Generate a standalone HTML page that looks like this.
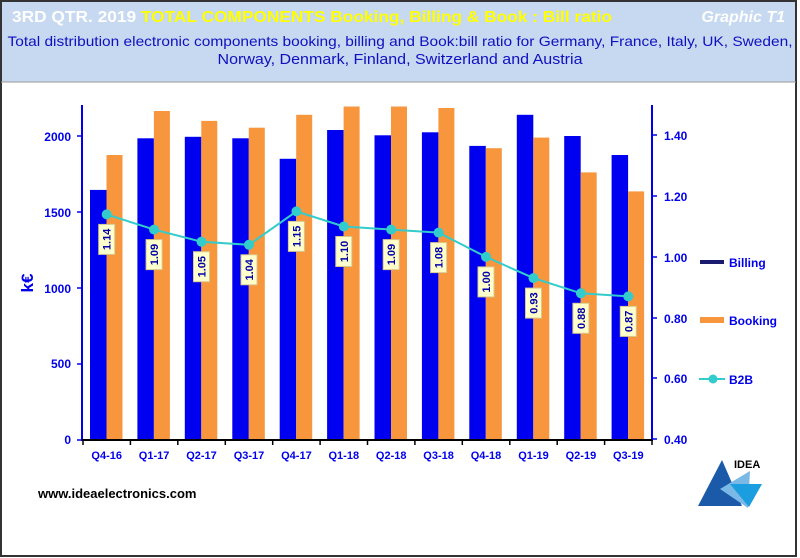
<!DOCTYPE html>
<html><head><meta charset="utf-8"><style>
html,body{margin:0;padding:0;background:#fff}
svg{display:block}
text{font-family:"Liberation Sans",Arial,sans-serif}
</style></head><body>
<svg width="800" height="558" viewBox="0 0 800 558" xmlns="http://www.w3.org/2000/svg">
<rect x="0" y="0" width="800" height="558" fill="#fff"/>
<rect x="1" y="1" width="796" height="81" fill="#c6d9f0"/>
<rect x="1" y="1" width="795" height="555" fill="none" stroke="#333" stroke-width="2"/>
<line x1="1" y1="82" x2="796" y2="82" stroke="#999" stroke-width="1"/>
<text x="12" y="22" font-size="16" font-weight="bold" fill="#fff" textLength="600" lengthAdjust="spacingAndGlyphs">3RD QTR. 2019 <tspan fill="#ffff00">TOTAL COMPONENTS  Booking,  Billing  &amp; Book : Bill ratio</tspan></text>
<text x="785" y="22" font-size="16" font-weight="bold" font-style="italic" fill="#fff" text-anchor="end">Graphic T1</text>
<text x="400" y="46" font-size="14" fill="#1010c0" text-anchor="middle" textLength="785" lengthAdjust="spacingAndGlyphs">Total distribution electronic components booking, billing and Book:bill ratio for Germany,  France, Italy,  UK, Sweden,</text>
<text x="400" y="64" font-size="15" fill="#1010c0" text-anchor="middle" textLength="365" lengthAdjust="spacingAndGlyphs">Norway,  Denmark, Finland, Switzerland  and  Austria</text>

<g fill="#0000f0">
<rect x="90" y="189.9" width="16.5" height="250.1"/>
<rect x="137.4" y="138.3" width="16.5" height="301.7"/>
<rect x="184.8" y="136.8" width="16.5" height="303.2"/>
<rect x="232.3" y="138.3" width="16.5" height="301.7"/>
<rect x="279.7" y="158.8" width="16.5" height="281.2"/>
<rect x="327.1" y="130" width="16.5" height="310"/>
<rect x="374.5" y="135.3" width="16.5" height="304.7"/>
<rect x="421.9" y="132.3" width="16.5" height="307.7"/>
<rect x="469.3" y="145.9" width="16.5" height="294.1"/>
<rect x="516.8" y="114.8" width="16.5" height="325.2"/>
<rect x="564.2" y="136" width="16.5" height="304"/>
<rect x="611.6" y="155" width="16.5" height="285"/>
</g>
<g fill="#f7963c">
<rect x="106.5" y="155" width="16" height="285"/>
<rect x="153.9" y="111" width="16" height="329"/>
<rect x="201.3" y="120.9" width="16" height="319.1"/>
<rect x="248.8" y="127.7" width="16" height="312.3"/>
<rect x="296.2" y="114.8" width="16" height="325.2"/>
<rect x="343.6" y="106.5" width="16" height="333.5"/>
<rect x="391" y="106.5" width="16" height="333.5"/>
<rect x="438.4" y="108" width="16" height="332"/>
<rect x="485.8" y="148.2" width="16" height="291.8"/>
<rect x="533.3" y="137.6" width="16" height="302.4"/>
<rect x="580.7" y="172.4" width="16" height="267.6"/>
<rect x="628.1" y="191.4" width="16" height="248.6"/>
</g>

<!-- axes -->
<line x1="82" y1="105" x2="82" y2="440" stroke="#0000ee" stroke-width="2"/>
<line x1="652" y1="105" x2="652" y2="440" stroke="#0000ee" stroke-width="2"/>
<line x1="81" y1="440" x2="653" y2="440" stroke="#000" stroke-width="2"/>
<g stroke="#000" stroke-width="1.5">
<line x1="83" y1="440" x2="83" y2="445"/><line x1="130.4" y1="440" x2="130.4" y2="445"/><line x1="177.8" y1="440" x2="177.8" y2="445"/><line x1="225.3" y1="440" x2="225.3" y2="445"/><line x1="272.7" y1="440" x2="272.7" y2="445"/><line x1="320.1" y1="440" x2="320.1" y2="445"/><line x1="367.5" y1="440" x2="367.5" y2="445"/><line x1="414.9" y1="440" x2="414.9" y2="445"/><line x1="462.3" y1="440" x2="462.3" y2="445"/><line x1="509.8" y1="440" x2="509.8" y2="445"/><line x1="557.2" y1="440" x2="557.2" y2="445"/><line x1="604.6" y1="440" x2="604.6" y2="445"/><line x1="652" y1="440" x2="652" y2="445"/>
</g>
<g font-size="11" font-weight="bold" fill="#0000ee" text-anchor="middle">
<text x="106.7" y="459">Q4-16</text><text x="154.1" y="459">Q1-17</text><text x="201.5" y="459">Q2-17</text><text x="249" y="459">Q3-17</text><text x="296.4" y="459">Q4-17</text><text x="343.8" y="459">Q1-18</text><text x="391.2" y="459">Q2-18</text><text x="438.6" y="459">Q3-18</text><text x="486" y="459">Q4-18</text><text x="533.5" y="459">Q1-19</text><text x="580.9" y="459">Q2-19</text><text x="628.3" y="459">Q3-19</text>
</g>
<g font-size="12" font-weight="bold" fill="#0000ee" text-anchor="end">
<text x="71" y="444">0</text><text x="71" y="368">500</text><text x="71" y="293">1000</text><text x="71" y="217">1500</text><text x="71" y="141">2000</text>
</g>
<g stroke="#0000ee" stroke-width="1.5">
<line x1="77" y1="440" x2="82" y2="440"/><line x1="77" y1="364" x2="82" y2="364"/><line x1="77" y1="288" x2="82" y2="288"/><line x1="77" y1="212" x2="82" y2="212"/><line x1="77" y1="136" x2="82" y2="136"/>
<line x1="652" y1="135" x2="657" y2="135"/><line x1="652" y1="196" x2="657" y2="196"/><line x1="652" y1="257" x2="657" y2="257"/><line x1="652" y1="318" x2="657" y2="318"/><line x1="652" y1="378" x2="657" y2="378"/><line x1="652" y1="439" x2="657" y2="439"/>
</g>
<g font-size="12" font-weight="bold" fill="#0000ee">
<text x="664" y="140">1.40</text><text x="664" y="201">1.20</text><text x="664" y="262">1.00</text><text x="664" y="323">0.80</text><text x="664" y="383">0.60</text><text x="664" y="444">0.40</text>
</g>
<text transform="translate(33,283) rotate(-90)" font-size="17" font-weight="bold" fill="#0000ee" text-anchor="middle">k€</text>

<!-- B2B line -->
<polyline points="106.7,214.4 154.1,229.6 201.5,241.7 249,244.8 296.4,211.4 343.8,226.5 391.2,229.6 438.6,232.6 486,256.9 533.5,278.1 580.9,293.3 628.3,296.4" fill="none" stroke="#33cccc" stroke-width="2"/>
<g fill="#33cccc">
<circle cx="106.7" cy="214.4" r="5"/><circle cx="154.1" cy="229.6" r="5"/><circle cx="201.5" cy="241.7" r="5"/><circle cx="249" cy="244.8" r="5"/><circle cx="296.4" cy="211.4" r="5"/><circle cx="343.8" cy="226.5" r="5"/><circle cx="391.2" cy="229.6" r="5"/><circle cx="438.6" cy="232.6" r="5"/><circle cx="486" cy="256.9" r="5"/><circle cx="533.5" cy="278.1" r="5"/><circle cx="580.9" cy="293.3" r="5"/><circle cx="628.3" cy="296.4" r="5"/>
</g>
<g fill="#ffffcc" stroke="#d8c890" stroke-width="1">
<rect x="98.7" y="224.4" width="16" height="30"/><rect x="146.1" y="239.6" width="16" height="30"/><rect x="193.5" y="251.7" width="16" height="30"/><rect x="241" y="254.8" width="16" height="30"/><rect x="288.4" y="221.4" width="16" height="30"/><rect x="335.8" y="236.5" width="16" height="30"/><rect x="383.2" y="239.6" width="16" height="30"/><rect x="430.6" y="242.6" width="16" height="30"/><rect x="478" y="266.9" width="16" height="30"/><rect x="525.5" y="288.1" width="16" height="30"/><rect x="572.9" y="303.3" width="16" height="30"/><rect x="620.3" y="306.4" width="16" height="30"/>
</g>
<g font-size="11" font-weight="bold" fill="#0000aa" text-anchor="middle">
<text transform="translate(110.7,239.4) rotate(-90)">1.14</text>
<text transform="translate(158.1,254.6) rotate(-90)">1.09</text>
<text transform="translate(205.5,266.7) rotate(-90)">1.05</text>
<text transform="translate(253,269.8) rotate(-90)">1.04</text>
<text transform="translate(300.4,236.4) rotate(-90)">1.15</text>
<text transform="translate(347.8,251.5) rotate(-90)">1.10</text>
<text transform="translate(395.2,254.6) rotate(-90)">1.09</text>
<text transform="translate(442.6,257.6) rotate(-90)">1.08</text>
<text transform="translate(490,281.9) rotate(-90)">1.00</text>
<text transform="translate(537.5,303.1) rotate(-90)">0.93</text>
<text transform="translate(584.9,318.3) rotate(-90)">0.88</text>
<text transform="translate(632.3,321.4) rotate(-90)">0.87</text>
</g>

<!-- legend -->
<line x1="700" y1="262" x2="724" y2="262" stroke="#1a1a6e" stroke-width="4"/>
<text x="729" y="267" font-size="12" font-weight="bold" fill="#0000ee">Billing</text>
<line x1="700" y1="320" x2="724" y2="320" stroke="#f7963c" stroke-width="6"/>
<text x="729" y="325" font-size="12" font-weight="bold" fill="#0000ee">Booking</text>
<line x1="699" y1="379" x2="725" y2="379" stroke="#33cccc" stroke-width="2"/>
<circle cx="713" cy="379" r="4.5" fill="#33cccc"/>
<text x="729" y="384" font-size="12" font-weight="bold" fill="#0000ee">B2B</text>
<text x="38" y="498" font-size="13" font-weight="bold" fill="#000">www.ideaelectronics.com</text>
<!-- logo -->
<polygon points="698,506 722,460 742,506" fill="#1a5aa8"/>
<polygon points="720,489 750,471 748,508" fill="#7ab8e6"/>
<polygon points="730,484 762,484 749,507" fill="#1a9ee0"/>
<text x="734" y="468" font-size="11" font-weight="bold" fill="#000">IDEA</text>
</svg>
</body></html>
